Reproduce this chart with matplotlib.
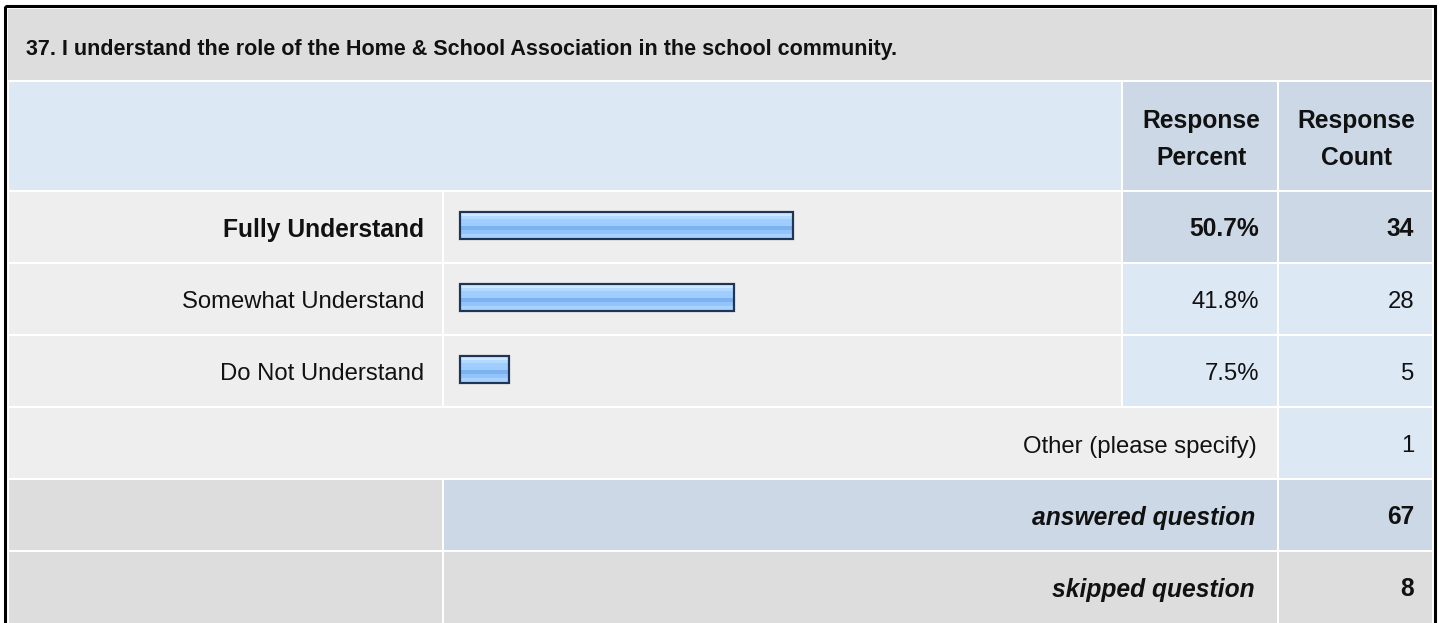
import matplotlib
matplotlib.use("Agg")
import matplotlib.pyplot as plt
from matplotlib.patches import Rectangle

# ---------------- data ----------------
title = "37. I understand the role of the Home & School Association in the school community."
categories = ["Fully Understand", "Somewhat Understand", "Do Not Understand"]
percents = [50.7, 41.8, 7.5]
counts = [34, 28, 5]
other_label = "Other (please specify)"
other_count = 1
answered = 67
skipped = 8
header_percent = "Response\nPercent"
header_count = "Response\nCount"

# ---------------- layout (pixels) ----------------
W, H = 1440, 623
FONT = "Liberation Sans"
FS = 17.2
FS_BOLD = 17.7
FS_TITLE = 15.5
TXT = "#111111"

C_TITLE = "#DDDDDD"
C_HEAD = "#DDE8F5"
C_HEAD2 = "#CCD8E6"
C_ROW = "#EEEEEE"
C_CELL = "#DDE8F5"
C_CELL_MAX = "#CCD8E6"
C_FOOT = "#DDDDDD"

x_right = 1432
col0 = (9, 442)
col1 = (444, 1121)
col2 = (1123, 1277)
col3 = (1279, 1432)
title_y = (9, 80)
head_y = (82, 190)
row_h = 70
row_gap = 2
first_row = 192

fig = plt.figure(figsize=(W / 100, H / 100), dpi=100)
ax = fig.add_axes([0, 0, 1, 1])
ax.set_xlim(0, W)
ax.set_ylim(H, 0)
ax.axis("off")
fig.patch.set_facecolor("white")


def cell(x0, x1, y0, y1, color):
    ax.add_patch(Rectangle((x0, y0), x1 - x0, y1 - y0, facecolor=color,
                           edgecolor="none", zorder=1))


def txt(x, y, s, ha="right", weight="normal", style="normal", size=None):
    if size is None:
        size = FS_BOLD if weight == "bold" else FS
    ax.text(x, y, s, ha=ha, va="baseline", fontsize=size, fontfamily=FONT,
            fontweight=weight, fontstyle=style, color=TXT, zorder=5)


# outer black border
ax.add_patch(Rectangle((5, 5.5), 1430, 640, facecolor="none",
                       edgecolor="black", linewidth=2.2, zorder=6))

# title
cell(8, x_right, title_y[0], title_y[1], C_TITLE)
txt(26, title_y[0] + 46, title, ha="left", weight="bold", size=FS_TITLE)

# header
cell(col0[0], col1[1], head_y[0], head_y[1], C_HEAD)
cell(col2[0], col2[1], head_y[0], head_y[1], C_HEAD2)
cell(col3[0], col3[1], head_y[0], head_y[1], C_HEAD2)
for (c, s) in ((col2, header_percent), (col3, header_count)):
    l1, l2 = s.split("\n")
    xc = (c[0] + c[1]) / 2 + 1
    txt(xc, head_y[0] + 46, l1, ha="center", weight="bold")
    txt(xc, head_y[0] + 83, l2, ha="center", weight="bold")

row_tops = [first_row + i * (row_h + row_gap) for i in range(6)]
pad_r = 18
imax = percents.index(max(percents))

# answer rows
bar_x0 = 460
px_per_pct = 6.56
bar_centers = []
for i, (cat, p, n) in enumerate(zip(categories, percents, counts)):
    top = row_tops[i]
    bot = top + row_h
    cell(col0[0], col0[1], top, bot, C_ROW)
    cell(col1[0], col1[1], top, bot, C_ROW)
    cc = C_CELL_MAX if i == imax else C_CELL
    cell(col2[0], col2[1], top, bot, cc)
    cell(col3[0], col3[1], top, bot, cc)
    w = "bold" if i == imax else "normal"
    base = top + 44.5
    txt(col0[1] - 18, base, cat, weight=w)
    txt(col2[1] - pad_r, base, f"{p:.1f}%", weight=w)
    txt(col3[1] - pad_r, base, f"{n}", weight=w)
    bar_centers.append(top + 33.5)

# bars: striped fill + navy outline
widths = [p * px_per_pct for p in percents]
stripes = [  # (offset from bar top, height, color)
    (2, 3, "#CFE7FF"),
    (5, 3, "#B4D9FF"),
    (8, 7, "#A0CDFF"),
    (15, 4, "#7DB2F2"),
    (19, 4, "#93C5FA"),
    (23, 4, "#A8D3FF"),
]
bar_h = 29
for off, hgt, col in stripes:
    ys = [c - bar_h / 2 + off + hgt / 2 for c in bar_centers]
    ax.barh(ys, widths, height=hgt, left=bar_x0, color=col,
            edgecolor="none", zorder=3)
ax.barh(bar_centers, widths, height=bar_h - 2, left=bar_x0, fill=False,
        edgecolor="#1E3558", linewidth=1.6, zorder=4)

# other row
top = row_tops[3]
cell(col0[0], col2[1], top, top + row_h, C_ROW)
cell(col3[0], col3[1], top, top + row_h, C_CELL)
txt(col2[1] - 20, top + 44.5, other_label)
txt(col3[1] - pad_r, top + 44.5, f"{other_count}")

# answered row
top = row_tops[4]
cell(col0[0], col0[1], top, top + row_h, C_FOOT)
cell(col1[0], col2[1], top, top + row_h, C_HEAD2)
cell(col3[0], col3[1], top, top + row_h, C_HEAD2)
txt(col2[1] - 22, top + 44.5, "answered question", weight="bold", style="italic")
txt(col3[1] - pad_r, top + 44.5, f"{answered}", weight="bold")

# skipped row
top = row_tops[5]
cell(col0[0], col0[1], top, H + 5, C_FOOT)
cell(col1[0], col2[1], top, H + 5, C_FOOT)
cell(col3[0], col3[1], top, H + 5, C_FOOT)
txt(col2[1] - 22, top + 44.5, "skipped question", weight="bold", style="italic")
txt(col3[1] - pad_r, top + 44.5, f"{skipped}", weight="bold")

fig.savefig("out.png", dpi=100)
